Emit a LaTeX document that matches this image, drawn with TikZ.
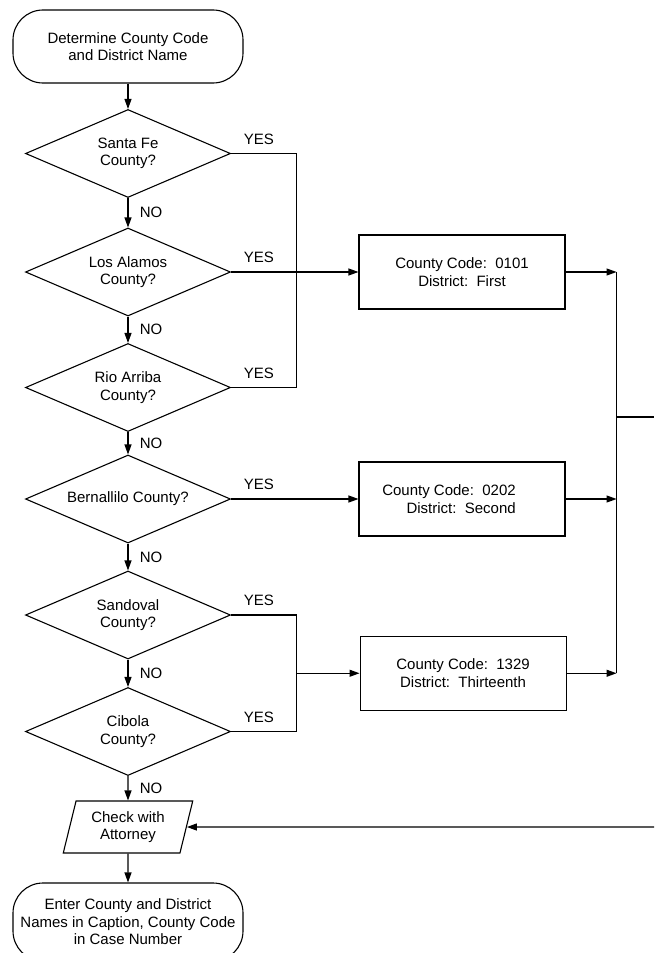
\documentclass[tikz,border=0pt]{standalone}
\usepackage{fontspec}
\setmainfont{Liberation Sans}
\usetikzlibrary{positioning}
\usetikzlibrary{shapes.geometric,arrows.meta,calc}

\begin{document}
\begin{tikzpicture}[x=1pt,y=1pt,on grid,line width=1.1pt,
    >={Triangle[length=10pt,width=7pt]},
    every node/.style={font=\fontsize{15}{17.5}\selectfont},
    term/.style={draw,rectangle,rounded corners=30pt,minimum width=230pt,inner sep=0pt,align=center},
    decision/.style={draw,diamond,aspect=2.33,minimum width=205pt,minimum height=88pt,inner sep=0pt,align=center},
    codebox/.style={draw,rectangle,minimum width=206pt,minimum height=74pt,align=center},
    io/.style={draw,trapezium,trapezium left angle=74,trapezium right angle=106,trapezium stretches,
        minimum width=130pt,minimum height=52pt,inner sep=0pt,align=center},
    yeslbl/.style={pos=0,anchor=south west,xshift=9pt,yshift=5pt},
    nolbl/.style={right,xshift=8pt}]
    \useasboundingbox (0,0) rectangle (654,-953);

       \node[term,minimum height=73pt] (start) at (128,-46.5) {Determine County Code\\and District Name};
        \node[decision] (santa) [below=107pt of start] {Santa Fe\\County?};
        \node[decision] (alamos) [below=118.5pt of santa] {Los Alamos\\County?};
        \node[decision] (rio) [below=115.5pt of alamos] {Rio Arriba\\County?};
        \node[decision] (bern) [below=111.5pt of rio] {Bernallilo County?};
        \node[decision] (sand) [below=116pt of bern] {Sandoval\\County?};
        \node[decision] (cib) [below=116.5pt of sand] {Cibola\\County?};
        \node[io] (atty) [below=95.5pt of cib] {Check with\\Attorney};
        \node[term,minimum height=78pt] (enter) [below=95pt of atty] {Enter County and District\\Names in Caption, County Code\\in Case Number};

        \coordinate (yesjoin) at ([xshift=65pt]alamos.east);
        \coordinate (lowmid) at ($(sand)!.5!(cib)$);
        \coordinate (lowjoin) at (yesjoin |- lowmid);
        \node[codebox] (first) [right=334pt of alamos] {County Code:\ \ 0101\\District:\ \ First};
        \node[codebox,align=right] (second) [right=334pt of bern] {County Code:\ \ 0202\hspace*{26pt}\\District:\ \ Second\hspace*{26pt}};
        \node[codebox] (thirt) at ([xshift=167pt]lowjoin) {County Code:\ \ 1329\\District:\ \ Thirteenth};

        \coordinate (rjoin) at ([xshift=51pt]first.east);
        \coordinate (rout) at (rjoin |- 0,-417);
        \coordinate (redge) at (654,-417);
        \coordinate (bedge) at (redge |- atty);

        \draw (santa.east) -| node[yeslbl] {YES} (yesjoin);
        \draw (rio.east) -| node[yeslbl] {YES} (yesjoin);
        \draw (sand.east) -| node[yeslbl] {YES} (lowjoin);
        \draw (cib.east) -| node[yeslbl] {YES} (lowjoin);
        \draw (first -| rjoin) -- (thirt -| rjoin);
        \draw (rout) -- (redge);

        \path[->]
        (start) edge (santa)
        (santa) edge node[nolbl] {NO} (alamos)
        (alamos) edge node[nolbl] {NO} (rio)
        (rio) edge node[nolbl] {NO} (bern)
        (bern) edge node[nolbl] {NO} (sand)
        (sand) edge node[nolbl] {NO} (cib)
        (cib) edge node[nolbl] {NO} (atty)
        (atty) edge (enter)
        (alamos) edge node[yeslbl] {YES} (first)
        (bern) edge node[yeslbl] {YES} (second)
        (lowjoin) edge (thirt)
        (first) edge (first -| rjoin)
        (second) edge (second -| rjoin)
        (thirt) edge (thirt -| rjoin)
        (bedge) edge (atty)
        ;
    \end{tikzpicture}
\end{document}
